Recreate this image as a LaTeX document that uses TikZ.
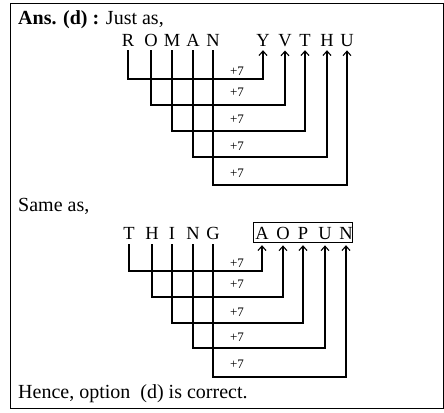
\documentclass[tikz,border=0pt]{standalone}
\usepackage{fontspec}
\setmainfont{Liberation Serif}
\usetikzlibrary{arrows.meta}

\tikzset{
  txt/.style={anchor=base west, inner sep=0pt, font=\fontsize{20}{22}\selectfont},
  letter/.style={anchor=base, inner sep=0pt, font=\fontsize{18.5}{22}\selectfont},
  plus/.style={inner sep=0pt, font=\fontsize{13}{14}\selectfont},
  link/.style={line width=1.1pt, -{Straight Barb[length=4.5pt,width=8pt,line width=1.1pt]}},
}

\begin{document}
\begin{tikzpicture}[x=1pt,y=-1pt]
\useasboundingbox (0,0) rectangle (444,412);
\draw[line width=1pt] (10.5,4) rectangle (443,408);

\node[txt] (ans) at (18,25) {\textbf{Ans. (d) :} Just as,};
\node[txt] (same) at (18,211) {Same as,};
\node[txt] (hence) at (18,398) {Hence, option\ \ (d) is correct.};

% ROMAN -> YVTHU
\foreach \c/\x [count=\i] in {R/128,O/151,M/172,A/193,N/213}
 \node[letter] (s\i) at (\x,47) {\c};
\foreach \c/\x [count=\i] in {Y/263,V/285,T/305,H/327,U/347}
 \node[letter] (t\i) at (\x,47) {\c};
\foreach \i/\y/\ly in {1/79/71,2/105/92,3/131/119,4/157/146,5/185/173}
{
 \draw[link] ([yshift=-3pt]s\i.south) |- (t\i.south |- 0,\y) -- ([yshift=-3pt]t\i.south);
 \node[plus] (p\i) at (237,\ly) {+7};
}

% THING -> AOPUN
\foreach \c/\x [count=\i] in {T/129,H/152,I/172,N/193,G/213}
 \node[letter] (u\i) at (\x,239) {\c};
\foreach \c/\x [count=\i] in {A/262,O/283,P/303,U/325,N/346}
 \node[letter] (v\i) at (\x,239) {\c};
\draw[line width=1pt] (253,222) rectangle (352,242.5);
\foreach \i/\y/\ly in {1/271/263,2/297/284,3/323/312,4/348/337,5/377/364}
{
 \draw[link] ([yshift=-5pt]u\i.south) |- (v\i.south |- 0,\y) -- ([yshift=-6pt]v\i.south);
 \node[plus] (q\i) at (237,\ly) {+7};
}
\end{tikzpicture}
\end{document}
